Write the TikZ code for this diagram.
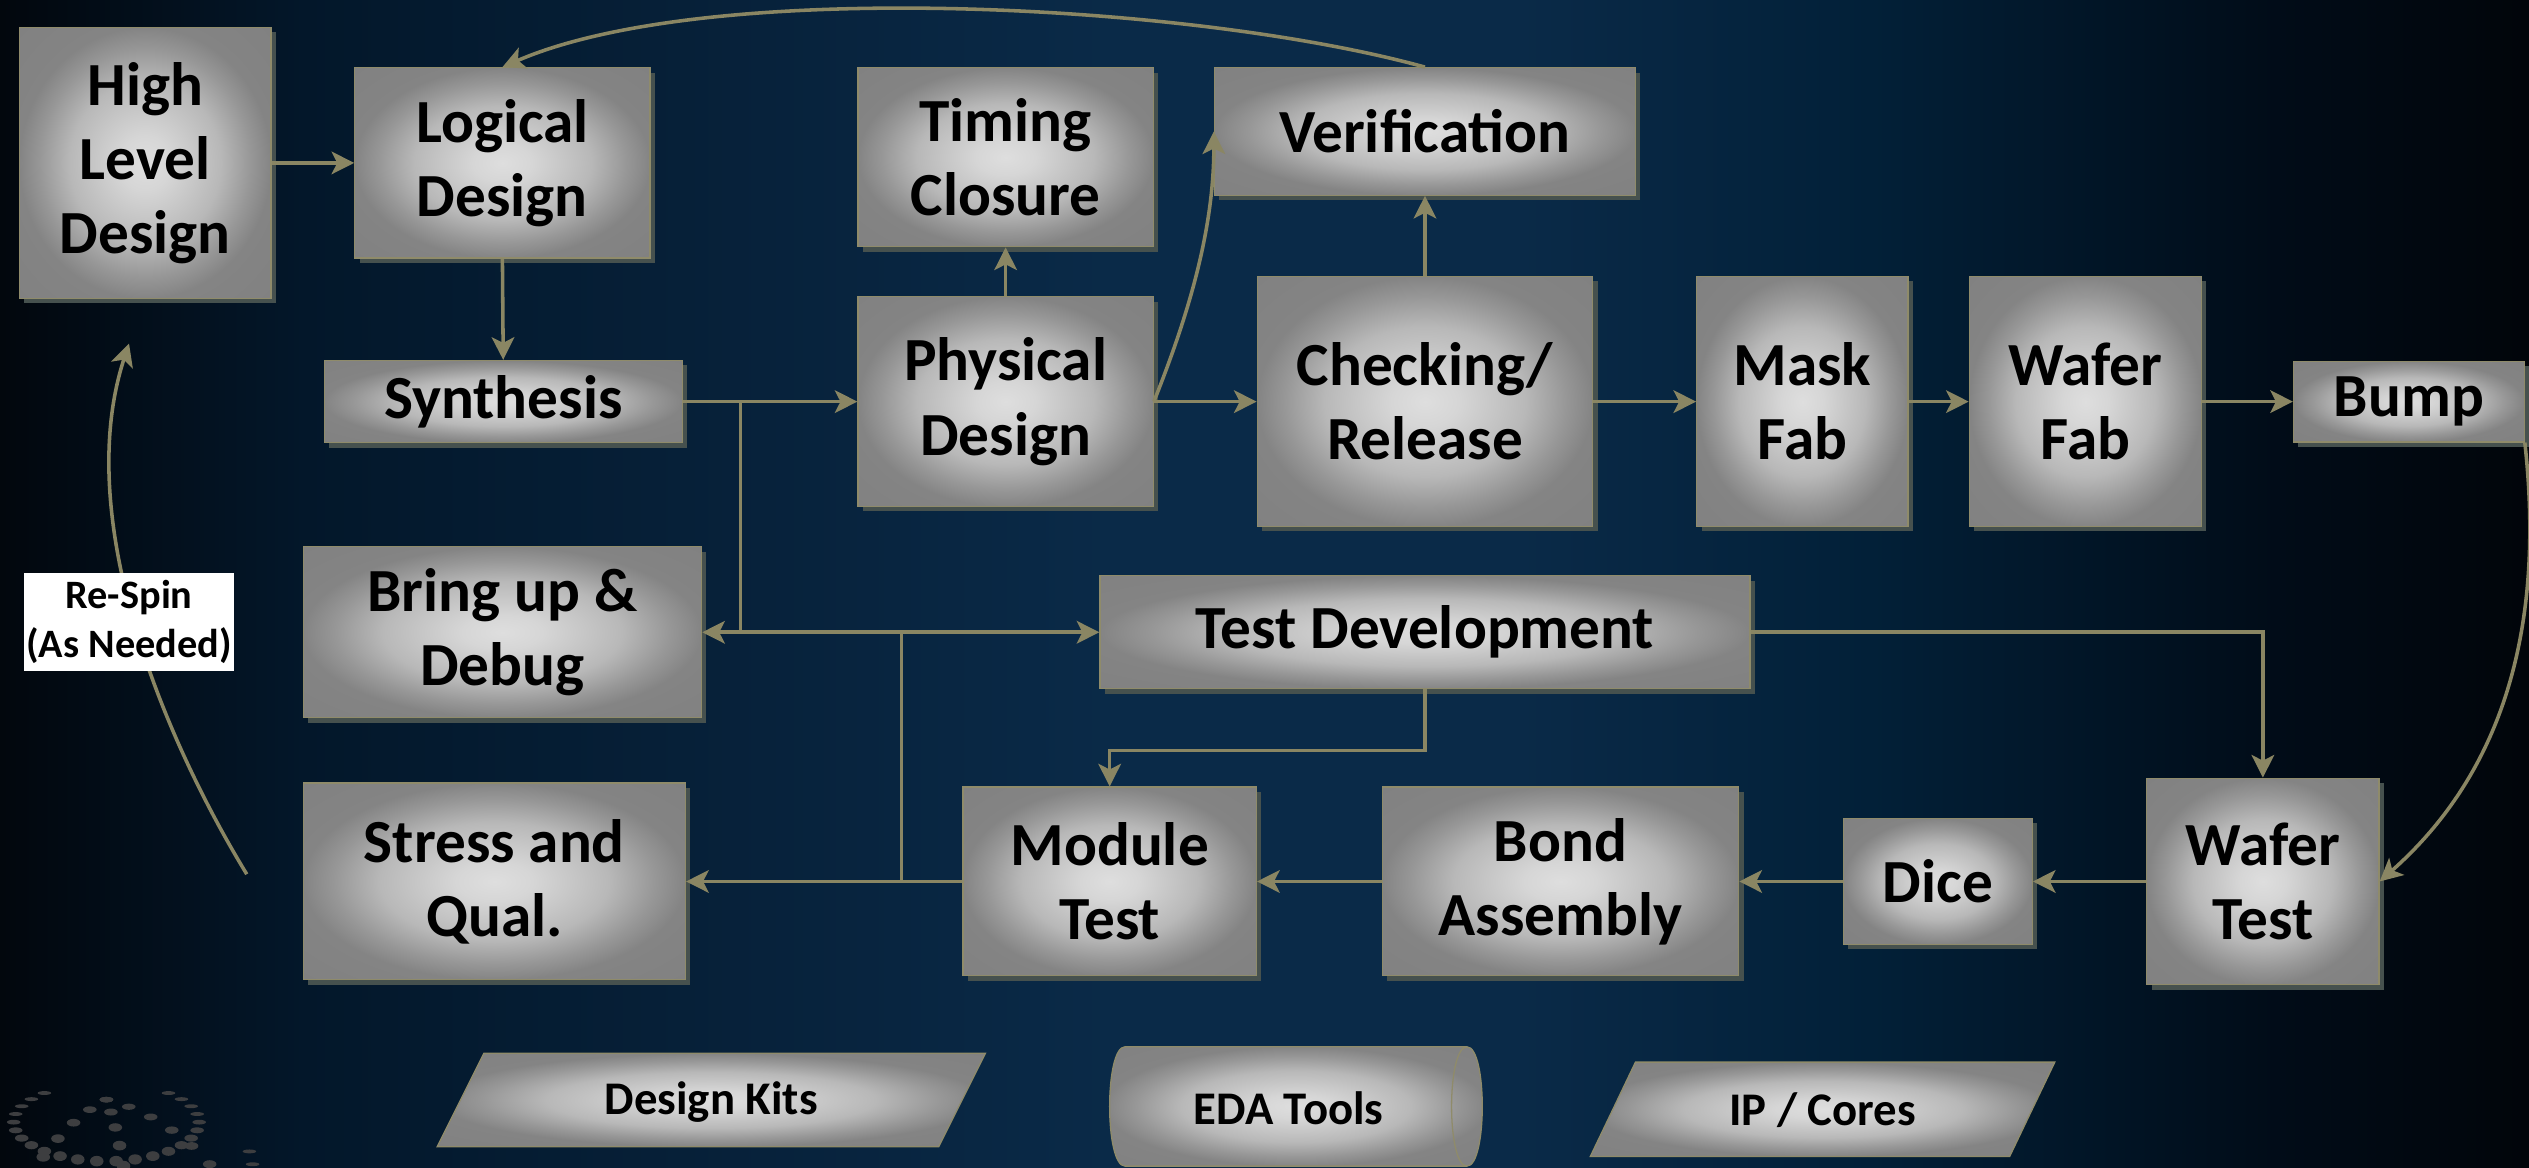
\documentclass[tikz,border=0pt]{standalone}
\usepackage{fontspec}
\setmainfont{Carlito}
\usetikzlibrary{arrows.meta,shadows,calc}

% palette
\definecolor{bgA}{HTML}{02070D}
\definecolor{bgB}{HTML}{03172A}
\definecolor{bgC}{HTML}{0A2A48}
\definecolor{bgD}{HTML}{022038}
\definecolor{bgE}{HTML}{010C18}
\definecolor{bgF}{HTML}{01050A}
\definecolor{boxhi}{HTML}{DEDEDE}
\definecolor{boxhm}{HTML}{D6D6D6}
\definecolor{boxmid}{HTML}{B8B8B8}
\definecolor{boxlm}{HTML}{979797}
\definecolor{boxlo}{HTML}{848484}
\definecolor{boxrim}{HTML}{7D7D7D}
\definecolor{wire}{HTML}{8A8663}
\definecolor{rim}{HTML}{8F8B6A}
\definecolor{boxshadow}{HTML}{46514E}
\definecolor{globedot}{HTML}{3D3E40}

% left-to-right backdrop (path spans 25bp..75bp)
\pgfdeclarehorizontalshading{backdrop}{100bp}{color(0bp)=(bgA); color(25bp)=(bgA); color(31bp)=(bgB); color(47bp)=(bgC); color(55bp)=(bgC); color(62bp)=(bgD); color(70bp)=(bgE); color(75bp)=(bgF); color(100bp)=(bgF)}
% bright centre fading to grey edges
\pgfdeclareradialshading{boxglow}{\pgfpoint{0bp}{0bp}}{color(0bp)=(boxhi); color(5bp)=(boxhm); color(15bp)=(boxmid); color(21bp)=(boxlm); color(25bp)=(boxlo); color(50bp)=(boxrim)}

\tikzset{
  blk/.style={rectangle, draw=rim, line width=0.8pt, shade, shading=boxglow,
    inner sep=0pt, align=center, text=black,
    font=\bfseries\fontsize{38}{46}\selectfont,
    drop shadow={shadow xshift=3pt, shadow yshift=-3pt, fill=boxshadow, opacity=1, draw=none}},
  tag/.style={inner sep=0pt, text=black, font=\bfseries\fontsize{29}{34}\selectfont},
  spinlabel/.style={rectangle, fill=white, inner sep=0pt, align=center, text=black,
    minimum width=130pt, minimum height=61pt,
    font=\bfseries\fontsize{25}{30.5}\selectfont},
  conn/.style={draw=wire, line width=2.2pt, -{Stealth[length=14pt,width=14pt,inset=3.5pt]}},
  link/.style={draw=wire, line width=2.2pt},
  tagshape/.style={shade, shading=boxglow, draw=rim, line width=0.8pt},
}

% one dot of the globe: polar angle #1, longitude #2 (orthographic view, tilted pole)
\def\gR{115}\def\gE{25}\def\gCx{66}\def\gCy{786}
\newcommand{\spheredot}[2]{%
  \pgfmathsetmacro{\gx}{\gCx+\gR*sin(#1)*cos(#2)}%
  \pgfmathsetmacro{\gy}{\gCy-\gR*(-sin(#1)*sin(#2)*sin(\gE)+cos(#1)*cos(\gE))}%
  \pgfmathsetmacro{\gz}{sin(#1)*sin(#2)*cos(\gE)+cos(#1)*sin(\gE)}%
  \ifdim\gz pt>0pt
    \pgfmathsetmacro{\gry}{4*max(0.3,\gz)}%
    \fill[globedot] (\gx,\gy) ellipse [x radius=4.2, y radius=\gry];
  \fi}

\begin{document}
\begin{tikzpicture}[x=1pt,y=-1pt]
\useasboundingbox (0,0) rectangle (1568,724);
\shade[shading=backdrop] (0,0) rectangle (1568,724);

% dotted globe in the lower left corner
\begin{scope}
  \clip (0,0) rectangle (1568,724);
  \foreach \th in {30,52,74}{
    \foreach \la in {0,12,...,348}{\spheredot{\th}{\la}}
  }
  \foreach \la in {30,80,130}{
    \foreach \th in {0,8,...,88}{\spheredot{\th}{\la}}
  }
\end{scope}

% process steps
\node[blk, minimum width=156pt, minimum height=168pt] (hld) at (90,101) {High\\Level\\Design};
\node[blk, minimum width=183pt, minimum height=118pt] (logic) at (311.5,101) {Logical\\Design};
\node[blk, minimum width=222pt, minimum height=51pt] (synth) at (312,249) {Synthesis};
\node[blk, minimum width=183pt, minimum height=111pt] (timing) at (623.5,97.5) {Timing\\Closure};
\node[blk, minimum width=261pt, minimum height=79pt] (verif) at (883.5,81.5) {Verification};
\node[blk, minimum width=183pt, minimum height=130pt] (phys) at (623.5,249) {Physical\\Design};
\node[blk, minimum width=208pt, minimum height=155pt] (check) at (883.5,249) {Checking/\\Release};
\node[blk, minimum width=131pt, minimum height=155pt] (mask) at (1117.5,249) {Mask\\Fab};
\node[blk, minimum width=144pt, minimum height=155pt] (waferfab) at (1293,249) {Wafer\\Fab};
\node[blk, minimum width=143pt, minimum height=50pt] (bump) at (1493.5,249) {Bump};
\node[blk, minimum width=247pt, minimum height=106pt] (bringup) at (311.5,392) {Bring up \&\\Debug};
\node[blk, minimum width=403pt, minimum height=70pt] (testdev) at (883.5,392) {Test Development};
\node[blk, minimum width=237pt, minimum height=122pt] (stress) at (306.5,546.5) {Stress and\\Qual.};
\node[blk, minimum width=182pt, minimum height=117pt] (module) at (688,546.5) {Module\\Test};
\node[blk, minimum width=221pt, minimum height=117pt] (bond) at (967.5,546.5) {Bond\\Assembly};
\node[blk, minimum width=117pt, minimum height=78pt] (dice) at (1201.5,546.5) {Dice};
\node[blk, minimum width=144pt, minimum height=128pt] (wafertest) at (1403,546.5) {Wafer\\Test};

% junctions
\coordinate (j1) at (459,249);
\coordinate (j2) at (459,392);
\coordinate (j3) at (559,546.5);
\coordinate (rsA) at (153,542);
\coordinate (rsB) at (80,213);

% flow
\draw[conn] (hld.east) -- (logic.west);
\draw[conn] (logic.south) -- (synth.north);
\draw[conn] (synth.east) -- (phys.west);
\draw[link] (j1) -- (j2);
\draw[conn] (j2) -- (bringup.east);
\draw[conn] (j2) -- (testdev.west);
\draw[link] (j3) -- (j3 |- j2);
\draw[conn] (phys.north) -- (timing.south);
\draw[conn] (phys.east) .. controls +(22,-55) and +(0,60) .. (verif.west);
\draw[conn] (phys.east) -- (check.west);
\draw[conn] (check.north) -- (verif.south);
\draw[conn] (verif.north) .. controls (740,2) and (440,-14) .. (logic.north);
\draw[conn] (check.east) -- (mask.west);
\draw[conn] (mask.east) -- (waferfab.west);
\draw[conn] (waferfab.east) -- (bump.west);
\draw[conn] (bump.south east) .. controls (1576,370) and (1562,470) .. (wafertest.east);
\draw[conn] (testdev.east) -| (wafertest.north);
\draw[conn] (testdev.south) -- ++(0,38) -| (module.north);
\draw[conn] (wafertest.west) -- (dice.east);
\draw[conn] (dice.west) -- (bond.east);
\draw[conn] (bond.west) -- (module.east);
\draw[conn] (module.west) -- (stress.east);

% re-spin loop
\draw[conn] (rsA) .. controls (100,455) and (45,320) .. (rsB);
\node[spinlabel] (respin) at (80,385.5) {Re-Spin\\(As Needed)};

% supporting inputs
\path[tagshape] (300,653) -- (611,653) -- (582,711) -- (271,711) -- cycle;
\node[tag] (kits) at (441,683.5) {Design Kits};
\path[tagshape] (697.5,649) -- (909.5,649) .. controls (922.2,649) and (922.2,723) .. (909.5,723)
  -- (697.5,723) .. controls (684.8,723) and (684.8,649) .. (697.5,649) -- cycle;
\draw[rim, line width=0.8pt] (909.5,649) .. controls (896.8,649) and (896.8,723) .. (909.5,723);
\node[tag] (eda) at (799,687) {EDA Tools};
\path[tagshape] (1014,658.5) -- (1274,658.5) -- (1246,717) -- (986,717) -- cycle;
\node[tag] (ip) at (1130,688) {IP / Cores};
\end{tikzpicture}
\end{document}
